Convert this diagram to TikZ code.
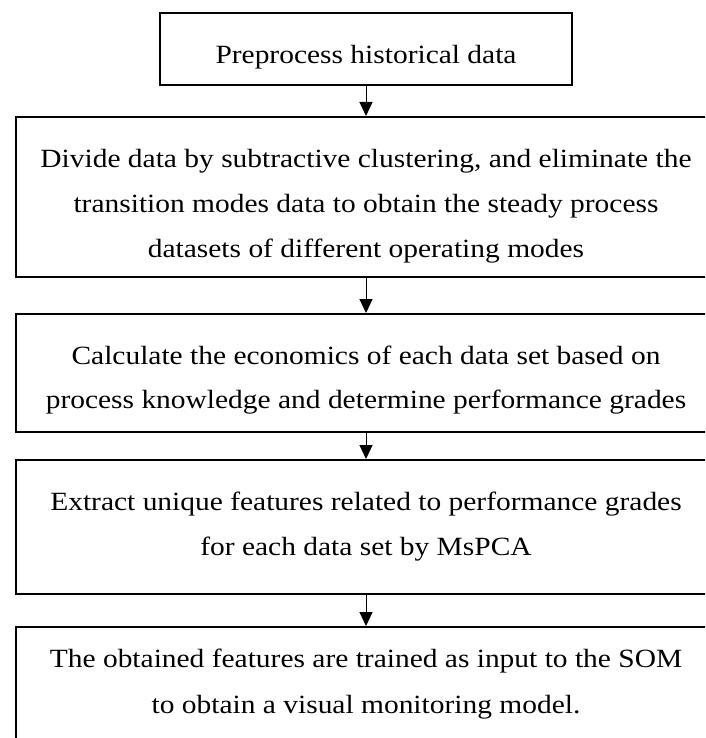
\documentclass[tikz,border=0pt]{standalone}
\usepackage{fontspec}
\setmainfont[FakeStretch=1.12]{Liberation Serif}
\usetikzlibrary{arrows.meta}
\begin{document}
\begin{tikzpicture}[x=1pt,y=-1pt,
  box/.style={draw=black, line width=2pt, rectangle, inner sep=0pt, fill=white},
  txt/.style={align=center, inner sep=0pt, font=\fontsize{26.3pt}{45pt}\selectfont},
  arr/.style={draw=black, line width=1pt, -{Triangle[width=13pt,length=14pt]}}]
\useasboundingbox (0,0) rectangle (705,738);
\clip (0,0) rectangle (705,738);
\fill[white] (0,0) rectangle (705,738);
% boxes
\node[box, minimum width=412pt, minimum height=72pt] (b1) at (366,49) {};
\node[box, minimum width=701pt, minimum height=160pt] (b2) at (366,197) {};
\node[box, minimum width=701pt, minimum height=118pt] (b3) at (366,373) {};
\node[box, minimum width=701pt, minimum height=134pt] (b4) at (366,527) {};
\node[box, minimum width=701pt, minimum height=134pt] (b5) at (366,694) {};
% texts (anchor base = baseline of the last line)
\node[txt, anchor=base] (t1) at (366,64) {Preprocess historical data};
\node[txt, anchor=base] (t2) at (366,257) {Divide data by subtractive clustering, and eliminate the\\transition modes data to obtain the steady process\\datasets of different operating modes};
\node[txt, anchor=base, font=\fontsize{26.3pt}{43.5pt}\selectfont] (t3) at (366,408) {Calculate the economics of each data set based on\\process knowledge and determine performance grades};
\node[txt, anchor=base] (t4) at (366,555) {Extract unique features related to performance grades\\for each data set by MsPCA};
\node[txt, anchor=base, font=\fontsize{26.3pt}{46pt}\selectfont] (t5) at (366,713) {The obtained features are trained as input to the SOM\\to obtain a visual monitoring model.};
% connectors
\draw[arr] (b1.south) -- (b1.south |- b2.north);
\draw[arr] (b2.south) -- (b2.south |- b3.north);
\draw[arr] (b3.south) -- (b3.south |- b4.north);
\draw[arr] (b4.south) -- (b4.south |- b5.north);
\end{tikzpicture}
\end{document}
